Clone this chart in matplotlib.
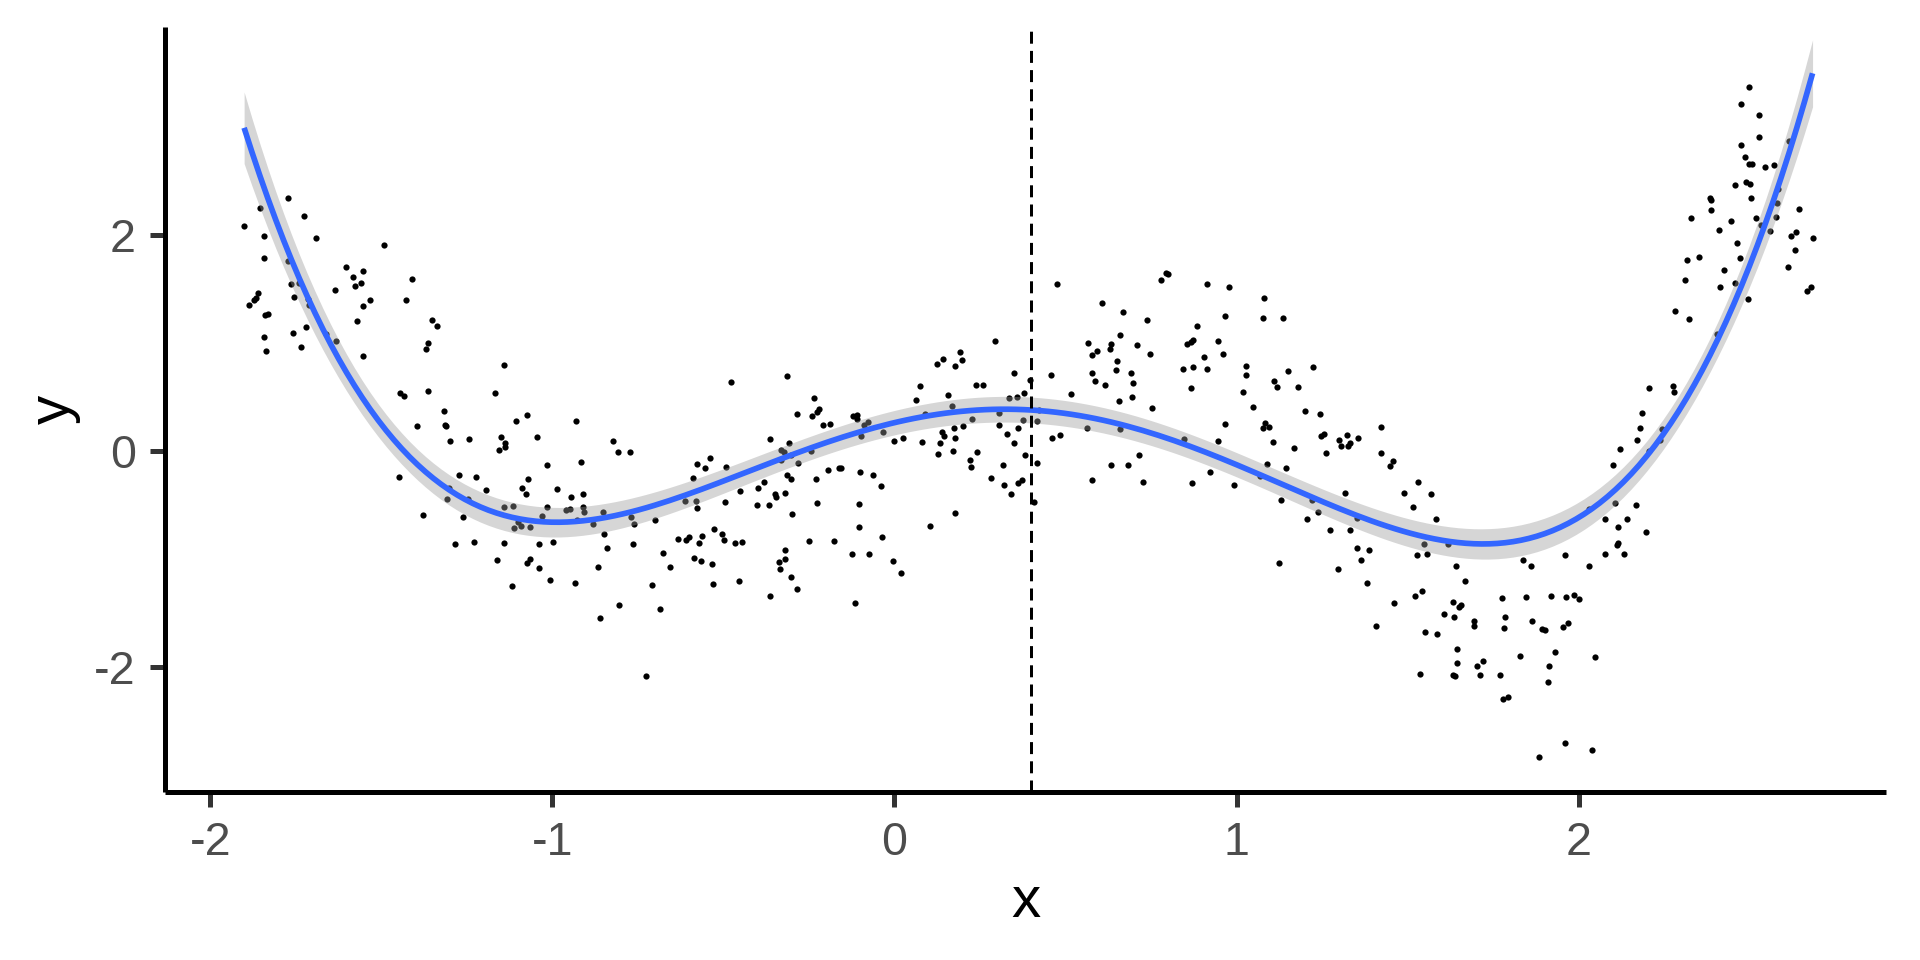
import numpy as np
import matplotlib
matplotlib.use("Agg")
import matplotlib.pyplot as plt

plt.rcParams['font.family'] = ['Liberation Sans', 'DejaVu Sans']

# ---- scatter data, grouped by x region ----
x_seg1 = [-1.772, -1.856, -1.901, -1.725, -1.843, -1.690, -1.492, -1.844, -1.773, -1.602,
          -1.553, -1.582, -1.410, -1.764, -1.742, -1.558, -1.577, -1.636, -1.860, -1.867,
          -1.871, -1.888, -1.755, -1.714, -1.711, -1.532, -1.553, -1.429, -1.832, -1.840,
          -1.570, -1.352, -1.337, -1.721, -1.757, -1.663, -1.631, -1.842, -1.736, -1.836,
          -1.363, -1.368, -1.553, -1.445, -1.434, -1.364, -1.395, -1.447, -1.379]
y_seg1 = [2.34, 2.25, 2.08, 2.18, 1.99, 1.97, 1.91, 1.79, 1.76, 1.70,
          1.67, 1.61, 1.59, 1.55, 1.56, 1.56, 1.53, 1.49, 1.46, 1.42,
          1.40, 1.35, 1.43, 1.41, 1.35, 1.40, 1.34, 1.40, 1.27, 1.26,
          1.20, 1.21, 1.16, 1.15, 1.09, 1.08, 1.02, 1.06, 0.96, 0.93,
          1.00, 0.94, 0.88, 0.54, 0.51, 0.56, 0.23, -0.24, -0.59]
x_seg2 = [-1.142, -1.168, -1.316, -1.314, -1.310, -1.074, -1.106, -0.931, -1.299, -1.244,
          -1.149, -1.139, -1.137, -1.155, -1.044, -0.823, -0.809, -0.773, -1.016, -0.917,
          -1.274, -1.223, -1.070, -1.301, -1.309, -1.193, -1.090, -1.076, -0.986, -1.247,
          -0.911, -0.945, -1.260, -1.142, -1.114, -1.016, -1.031, -0.961, -0.949, -0.909,
          -0.906, -0.852, -0.929, -1.100, -1.092, -1.111, -1.066, -0.881, -0.850, -0.771,
          -0.761, -1.286, -1.228, -1.140, -1.038, -0.997, -0.839, -0.765, -1.163, -1.065,
          -1.073, -1.038, -1.006, -1.119, -0.935, -0.867, -0.805, -0.860]
y_seg2 = [0.80, 0.54, 0.37, 0.24, 0.23, 0.33, 0.28, 0.28, 0.09, 0.11,
          0.13, 0.07, 0.04, 0.01, 0.13, 0.09, -0.01, -0.01, -0.13, -0.10,
          -0.22, -0.24, -0.26, -0.34, -0.44, -0.36, -0.34, -0.40, -0.35, -0.44,
          -0.40, -0.43, -0.61, -0.52, -0.51, -0.52, -0.60, -0.55, -0.54, -0.52,
          -0.56, -0.56, -0.64, -0.66, -0.69, -0.71, -0.70, -0.68, -0.77, -0.61,
          -0.68, -0.86, -0.84, -0.85, -0.86, -0.84, -0.90, -0.86, -1.01, -1.00,
          -1.04, -1.08, -1.19, -1.25, -1.22, -1.07, -1.43, -1.55]
x_seg3 = [-0.477, -0.314, -0.235, -0.286, -0.221, -0.227, -0.241, -0.210, -0.189, -0.365,
          -0.308, -0.332, -0.323, -0.301, -0.243, -0.331, -0.281, -0.538, -0.578, -0.555,
          -0.491, -0.193, -0.161, -0.590, -0.315, -0.302, -0.228, -0.382, -0.399, -0.450,
          -0.612, -0.581, -0.578, -0.496, -0.348, -0.345, -0.319, -0.402, -0.367, -0.300,
          -0.225, -0.700, -0.528, -0.504, -0.498, -0.563, -0.571, -0.600, -0.608, -0.632,
          -0.467, -0.445, -0.251, -0.177, -0.677, -0.585, -0.564, -0.532, -0.657, -0.320,
          -0.336, -0.319, -0.335, -0.709, -0.531, -0.453, -0.303, -0.285, -0.364, -0.685,
          -0.726]
y_seg3 = [0.64, 0.69, 0.49, 0.34, 0.39, 0.36, 0.32, 0.24, 0.25, 0.11,
          0.07, 0.01, -0.01, -0.04, 0.00, -0.08, -0.11, -0.06, -0.12, -0.16,
          -0.15, -0.18, -0.16, -0.25, -0.22, -0.26, -0.26, -0.29, -0.34, -0.37,
          -0.46, -0.46, -0.53, -0.47, -0.40, -0.43, -0.39, -0.50, -0.50, -0.58,
          -0.48, -0.64, -0.72, -0.77, -0.82, -0.79, -0.85, -0.80, -0.82, -0.81,
          -0.85, -0.84, -0.83, -0.83, -0.94, -0.99, -1.02, -1.05, -1.07, -0.92,
          -1.03, -1.00, -1.09, -1.24, -1.23, -1.20, -1.17, -1.28, -1.34, -1.46,
          -2.08]
x_seg4 = [0.294, 0.124, 0.142, 0.192, 0.197, 0.178, 0.351, 0.397, 0.074, 0.239,
          0.259, 0.157, 0.064, 0.167, 0.336, 0.357, 0.379, 0.088, -0.121, -0.109,
          -0.109, -0.078, -0.090, -0.098, -0.032, 0.307, 0.423, 0.418, 0.227, 0.201,
          0.307, 0.377, 0.362, 0.139, 0.145, 0.174, 0.176, 0.329, 0.000, 0.024,
          0.080, 0.134, 0.128, 0.170, 0.241, 0.222, 0.223, 0.350, 0.383, -0.155,
          -0.102, -0.062, -0.039, 0.316, 0.416, 0.282, 0.321, 0.341, 0.362, 0.373,
          0.409, -0.105, 0.177, -0.103, 0.103, -0.036, -0.123, -0.073, -0.003, 0.020,
          -0.116]
y_seg4 = [1.02, 0.81, 0.85, 0.92, 0.84, 0.79, 0.72, 0.66, 0.60, 0.61,
          0.61, 0.52, 0.47, 0.42, 0.49, 0.50, 0.54, 0.34, 0.32, 0.33,
          0.30, 0.27, 0.24, 0.14, 0.18, 0.35, 0.38, 0.28, 0.30, 0.23,
          0.24, 0.29, 0.21, 0.18, 0.14, 0.21, 0.12, 0.16, 0.09, 0.12,
          0.08, 0.07, -0.03, 0.00, -0.01, -0.08, -0.15, 0.07, -0.04, -0.16,
          -0.19, -0.22, -0.32, -0.13, -0.11, -0.25, -0.31, -0.40, -0.30, -0.27,
          -0.47, -0.49, -0.57, -0.70, -0.69, -0.80, -0.95, -0.95, -1.02, -1.13,
          -1.41]
x_seg5 = [0.474, 0.779, 0.793, 0.800, 0.915, 0.978, 0.606, 0.668, 0.739, 0.967,
          0.884, 0.660, 0.566, 0.591, 0.578, 0.633, 0.629, 0.710, 0.746, 0.856,
          0.873, 0.868, 0.945, 0.960, 0.905, 0.651, 0.648, 0.691, 0.844, 0.872,
          0.913, 0.579, 0.458, 0.585, 0.617, 0.698, 0.866, 0.695, 0.515, 0.656,
          0.753, 0.564, 0.659, 0.462, 0.483, 0.967, 0.947, 0.847, 0.716, 0.633,
          0.684, 0.922, 0.578, 0.728, 0.871, 0.993]
y_seg5 = [1.55, 1.58, 1.65, 1.64, 1.55, 1.52, 1.37, 1.29, 1.21, 1.25,
          1.16, 1.07, 1.00, 0.93, 0.89, 0.99, 0.94, 0.98, 0.90, 0.99,
          1.03, 1.01, 1.02, 0.90, 0.87, 0.83, 0.75, 0.72, 0.76, 0.78,
          0.76, 0.72, 0.70, 0.65, 0.61, 0.63, 0.58, 0.50, 0.53, 0.46,
          0.40, 0.21, 0.20, 0.12, 0.15, 0.25, 0.09, 0.11, -0.04, -0.13,
          -0.13, -0.19, -0.27, -0.29, -0.30, -0.31]
x_seg6 = [1.079, 1.077, 1.135, 1.028, 1.029, 1.019, 1.152, 1.224, 1.109, 1.118,
          1.181, 1.049, 1.199, 1.243, 1.084, 1.078, 1.094, 1.247, 1.256, 1.108,
          1.167, 1.300, 1.305, 1.324, 1.326, 1.332, 1.356, 1.262, 1.421, 1.423,
          1.457, 1.449, 1.088, 1.146, 1.068, 1.318, 1.131, 1.220, 1.205, 1.237,
          1.274, 1.333, 1.352, 1.490, 1.532, 1.568, 1.516, 1.582, 1.352, 1.387,
          1.363, 1.547, 1.529, 1.556, 1.123, 1.297, 1.381, 1.461, 1.522, 1.542,
          1.408, 1.551, 1.585, 1.536]
y_seg6 = [1.42, 1.23, 1.23, 0.79, 0.70, 0.55, 0.74, 0.78, 0.65, 0.59,
          0.59, 0.41, 0.37, 0.34, 0.26, 0.21, 0.22, 0.14, 0.16, 0.08,
          0.03, 0.10, 0.05, 0.15, 0.05, 0.07, 0.12, -0.02, 0.22, -0.02,
          -0.09, -0.14, -0.12, -0.16, -0.23, -0.39, -0.45, -0.45, -0.63, -0.56,
          -0.73, -0.73, -0.62, -0.39, -0.29, -0.40, -0.52, -0.63, -0.90, -0.92,
          -1.01, -0.86, -0.96, -0.95, -1.04, -1.09, -1.22, -1.41, -1.34, -1.30,
          -1.62, -1.68, -1.69, -2.06]
x_seg7 = [2.171, 2.121, 2.100, 1.617, 2.029, 2.106, 2.167, 2.077, 2.142, 2.114,
          2.114, 2.111, 2.077, 2.134, 1.961, 1.837, 1.861, 2.031, 1.641, 1.667,
          1.775, 1.845, 1.920, 1.963, 1.987, 2.000, 1.632, 1.651, 1.655, 1.606,
          1.636, 1.694, 1.695, 1.784, 1.782, 1.864, 1.893, 1.903, 1.953, 1.969,
          1.645, 1.646, 1.721, 1.704, 1.632, 1.640, 1.713, 1.771, 1.828, 1.931,
          1.914, 2.049, 1.912, 1.780, 1.795, 1.959, 2.039, 1.884]
y_seg7 = [0.10, 0.02, -0.13, -0.86, -0.54, -0.48, -0.50, -0.63, -0.63, -0.70,
          -0.85, -0.87, -0.95, -0.95, -0.96, -1.01, -1.06, -1.06, -1.06, -1.20,
          -1.36, -1.35, -1.34, -1.35, -1.33, -1.37, -1.40, -1.44, -1.43, -1.51,
          -1.54, -1.57, -1.62, -1.54, -1.64, -1.57, -1.65, -1.66, -1.63, -1.59,
          -1.83, -1.96, -1.94, -1.99, -2.07, -2.08, -2.07, -2.07, -1.90, -1.86,
          -1.99, -1.91, -2.14, -2.30, -2.28, -2.70, -2.77, -2.83]
x_seg8 = [2.498, 2.475, 2.527, 2.526, 2.614, 2.476, 2.487, 2.497, 2.506, 2.546,
          2.570, 2.458, 2.489, 2.500, 2.504, 2.385, 2.386, 2.386, 2.583, 2.581,
          2.576, 2.520, 2.532, 2.561, 2.643, 2.328, 2.447, 2.411, 2.620, 2.637,
          2.684, 2.463, 2.633, 2.612, 2.318, 2.351, 2.473, 2.426, 2.311, 2.457,
          2.413, 2.679, 2.669, 2.494, 2.281, 2.324, 2.406, 2.205, 2.277, 2.279,
          2.185, 2.180, 2.243, 2.238, 2.206, 2.198]
y_seg8 = [3.37, 3.21, 3.11, 2.91, 2.87, 2.83, 2.72, 2.66, 2.66, 2.63,
          2.65, 2.46, 2.49, 2.47, 2.34, 2.34, 2.32, 2.23, 2.43, 2.30,
          2.17, 2.16, 2.09, 2.04, 2.24, 2.16, 2.13, 2.05, 1.99, 2.03,
          1.97, 1.93, 1.86, 1.70, 1.77, 1.80, 1.79, 1.68, 1.58, 1.56,
          1.52, 1.52, 1.48, 1.41, 1.30, 1.22, 1.08, 0.58, 0.60, 0.55,
          0.35, 0.21, 0.20, 0.10, 0.00, -0.75]

vline_x = 0.4
x_ticks = [-2, -1, 0, 1, 2]
y_ticks = [-2, 0, 2]
poly_degree = 4

x = np.array(x_seg1 + x_seg2 + x_seg3 + x_seg4 + x_seg5 + x_seg6 + x_seg7 + x_seg8)
y = np.array(y_seg1 + y_seg2 + y_seg3 + y_seg4 + y_seg5 + y_seg6 + y_seg7 + y_seg8)

# ---- smoother: least-squares polynomial (y ~ poly(x, 4)) with 95% confidence band ----
coef = np.polyfit(x, y, poly_degree)
xs = np.linspace(x.min(), x.max(), 200)
X = np.vander(x, poly_degree + 1)
Xs = np.vander(xs, poly_degree + 1)
fit = Xs @ coef
resid = y - X @ coef
dof = len(x) - (poly_degree + 1)
sigma2 = resid @ resid / dof
XtX_inv = np.linalg.inv(X.T @ X)
se = np.sqrt(np.einsum('ij,jk,ik->i', Xs, XtX_inv, Xs) * sigma2)
tq = 1.965
lo, hi = fit - tq * se, fit + tq * se

fig = plt.figure(figsize=(8, 4), dpi=240)
ax = fig.add_axes([0.0859, 0.175, 0.8964, 0.797])

ax.scatter(x, y, s=3.5, c='black', linewidths=0, zorder=1)
ax.fill_between(xs, lo, hi, color='#999999', alpha=0.4, linewidth=0, zorder=2)
ax.plot(xs, fit, color='#3366FF', lw=1.7, zorder=3, solid_capstyle='butt')
ax.axvline(vline_x, color='black', lw=0.9, linestyle=(0, (4, 2.4)), zorder=4)

ax.set_xlim(-2.1325, 2.8987)
ax.set_ylim(-3.157, 3.927)

ax.set_xticks(x_ticks)
ax.set_yticks(y_ticks)
ax.set_xticklabels([str(t) for t in x_ticks])
ax.set_yticklabels([str(t) for t in y_ticks])

for s in ['top', 'right']:
    ax.spines[s].set_visible(False)
for s in ['left', 'bottom']:
    ax.spines[s].set_linewidth(1.5)
    ax.spines[s].set_color('black')
    ax.spines[s].set_capstyle('butt')
ax.tick_params(axis='both', length=4.4, width=1.5, color='#333333',
               labelsize=14, labelcolor='#4D4D4D', pad=4.3)
ax.set_xlabel('x', fontsize=17.5, color='black', labelpad=3.0)
ax.set_ylabel('y', fontsize=17.5, color='black', labelpad=4.0)

fig.savefig('out.png', dpi=240)
